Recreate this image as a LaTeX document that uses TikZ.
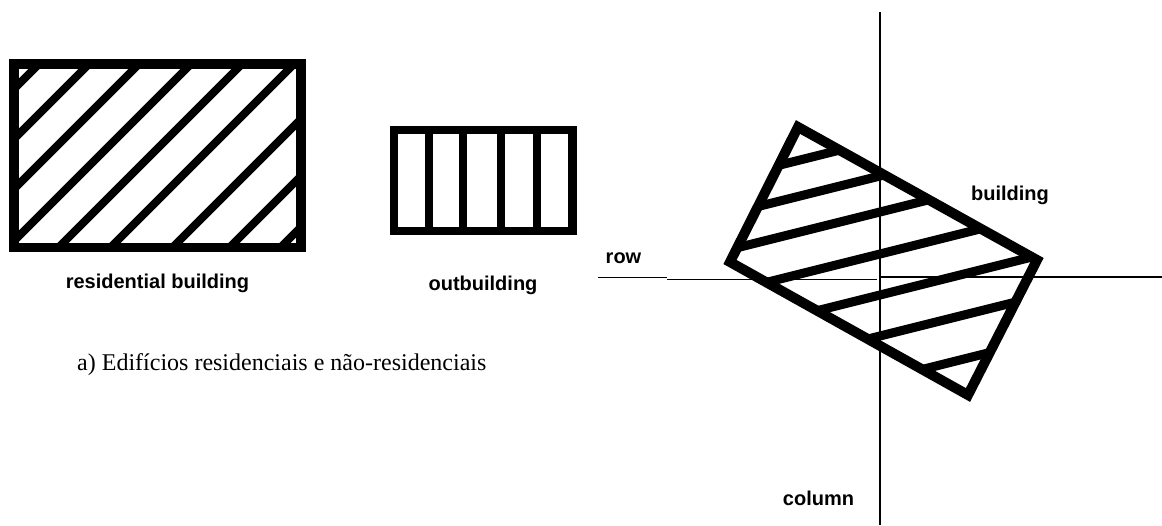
\documentclass[tikz,border=0pt]{standalone}
\usepackage{fontspec}
\setmainfont{Liberation Serif}
\newfontfamily\labfont{Liberation Sans}
\begin{document}
\begin{tikzpicture}[x=1pt,y=-1pt,line join=miter,
  boxline/.style={line width=9.5pt},
  outline/.style={line width=8.5pt},
  hatchline/.style={line width=8pt},
  rotline/.style={line width=10pt},
  rothatch/.style={line width=9pt},
  axisline/.style={line width=1.4pt},
  lab/.style={font=\labfont\bfseries\fontsize{20}{24}\selectfont,inner sep=0pt,anchor=base},
  captext/.style={font=\fontsize{24}{28}\selectfont,inner sep=0pt,anchor=base west}]
\useasboundingbox (0,0) rectangle (1162,525);

% residential building
\coordinate (r1) at (14,64);
\coordinate (r2) at (301,247.5);
\begin{scope}
  \clip (r1) rectangle (r2);
  \foreach \c in {103,153,203,255,306,358,420,477,528}
    \draw[hatchline] (\c-300,300) -- (\c,0);
\end{scope}
\draw[boxline] (r1) rectangle (r2);

% outbuilding
\coordinate (o1) at (394,130);
\coordinate (o2) at (572.5,231);
\draw[outline] (o1) rectangle (o2);
\foreach \x in {429,463,501,537}
  \draw[outline] (\x,130) -- (\x,231);

% axes
\coordinate (vt) at (880,12);
\coordinate (vb) at (880,525);
\draw[axisline] (vt) -- (vb);
\coordinate (h1) at (598,277.3);
\coordinate (h2) at (667,277.3);
\coordinate (h3) at (667,279.3);
\coordinate (h4) at (877,279.3);
\coordinate (h5) at (880,277);
\coordinate (h6) at (1162,277);
\draw[axisline] (h1) -- (h2);
\draw[axisline] (h3) -- (h4);
\draw[axisline] (h5) -- (h6);

% rotated building
\coordinate (T) at (798,127);
\coordinate (R) at (1037,260);
\coordinate (B) at (968,395);
\coordinate (L) at (730,262);
\begin{scope}
  \clip (T) -- (R) -- (B) -- (L) -- cycle;
  \foreach \k in {360,396,432,474,515,556,600}
    \draw[rothatch] (700,\k-175) -- (1060,\k-265);
\end{scope}
\draw[rotline] (T) -- (R) -- (B) -- (L) -- cycle;

% labels
\node[lab] (reslab) at (157.5,288) {residential building};
\node[lab] (outlab) at (483,290) {outbuilding};
\node[lab] (rowlab) at (623.5,263) {row};
\node[lab] (bldlab) at (1010,200) {building};
\node[lab] (collab) at (818.5,505) {column};
\node[captext] (caption) at (77,370) {a) Edifícios residenciais e não-residenciais};
\end{tikzpicture}
\end{document}
